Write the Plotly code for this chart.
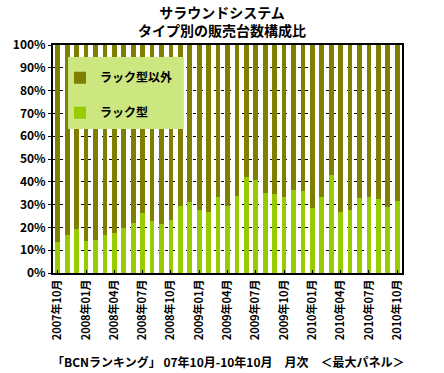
import plotly.graph_objects as go

months = [
    "2007年10月", "2007年11月", "2007年12月",
    "2008年01月", "2008年02月", "2008年03月", "2008年04月", "2008年05月", "2008年06月",
    "2008年07月", "2008年08月", "2008年09月", "2008年10月", "2008年11月", "2008年12月",
    "2009年01月", "2009年02月", "2009年03月", "2009年04月", "2009年05月", "2009年06月",
    "2009年07月", "2009年08月", "2009年09月", "2009年10月", "2009年11月", "2009年12月",
    "2010年01月", "2010年02月", "2010年03月", "2010年04月", "2010年05月", "2010年06月",
    "2010年07月", "2010年08月", "2010年09月", "2010年10月",
]
rack = [
    13.6, 16.7, 19.3, 14.1, 14.5, 16.7, 17.5, 19.9, 21.9, 26.2,
    22.8, 21.4, 23.2, 29.3, 31.0, 27.5, 26.7, 33.2, 29.3, 33.6,
    41.9, 41.0, 34.9, 34.5, 33.2, 36.2, 35.8, 28.4, 33.2, 43.2,
    26.7, 27.5, 32.8, 33.2, 32.3, 28.8, 31.4,
]
non_rack = [round(100 - v, 1) for v in rack]
tick_labels = months[::3]
y_ticks = [0, 10, 20, 30, 40, 50, 60, 70, 80, 90, 100]
y_tick_text = [f"{v}%" for v in y_ticks]

FONT = "Noto Sans CJK JP"
GREEN = "#99CC00"
OLIVE = "#808000"

fig = go.Figure()
fig.add_trace(go.Bar(x=months, y=rack, name="ラック型", marker=dict(color=GREEN, line=dict(width=0)),
                     legendgroup="a", legendrank=2))
fig.add_trace(go.Bar(x=months, y=non_rack, name="ラック型以外", marker=dict(color=OLIVE, line=dict(width=0)),
                     legendgroup="b", legendrank=1))

fig.update_layout(
    width=444, height=373,
    margin=dict(l=53, r=42, t=45, b=100),
    barmode="stack", bargap=0.5,
    paper_bgcolor="white", plot_bgcolor="white",
    font=dict(family=FONT, color="black"),
    title=dict(text="サラウンドシステム<br>タイプ別の販売台数構成比", x=0.5, xanchor="center",
               y=0.951, yanchor="top", font=dict(size=14, weight="bold", family=FONT)),
    legend=dict(x=0.02, xanchor="left", y=0.92, yanchor="top", bgcolor="rgba(0,0,0,0)",
                traceorder="grouped", tracegroupgap=16,
                font=dict(size=12, weight="bold", family=FONT)),
    xaxis=dict(type="category", tickmode="array", tickvals=tick_labels, ticktext=tick_labels,
               tickangle=-90, tickfont=dict(size=11, weight="bold", family=FONT),
               showline=True, linecolor="black", linewidth=2, mirror=True,
               ticks="inside", ticklen=3, tickcolor="black", showgrid=False,
               range=[-0.5, len(months) - 0.5]),
    yaxis=dict(range=[0, 100], tickvals=y_ticks, ticktext=y_tick_text,
               tickfont=dict(size=12, weight="bold", family=FONT),
               showline=True, linecolor="black", linewidth=2, mirror=True,
               ticks="outside", ticklen=3, tickcolor="black",
               showgrid=True, gridcolor="black", griddash="3px,4px", gridwidth=1,
               zeroline=False),
    shapes=[dict(type="rect", xref="paper", yref="paper", x0=0.043, x1=0.375, y0=0.632, y1=0.947,
                 fillcolor="#CCE680", line=dict(width=0), layer="above")],
    annotations=[dict(text="「BCNランキング」 07年10月-10年10月　月次　＜最大パネル＞",
                      xref="paper", yref="paper", x=0.5, y=-0.343, xanchor="center", yanchor="top",
                      showarrow=False, font=dict(size=12, weight="bold", family=FONT))],
)

fig.write_html("out.html", config={"displayModeBar": False},
               post_script="document.body.style.margin='0';")
